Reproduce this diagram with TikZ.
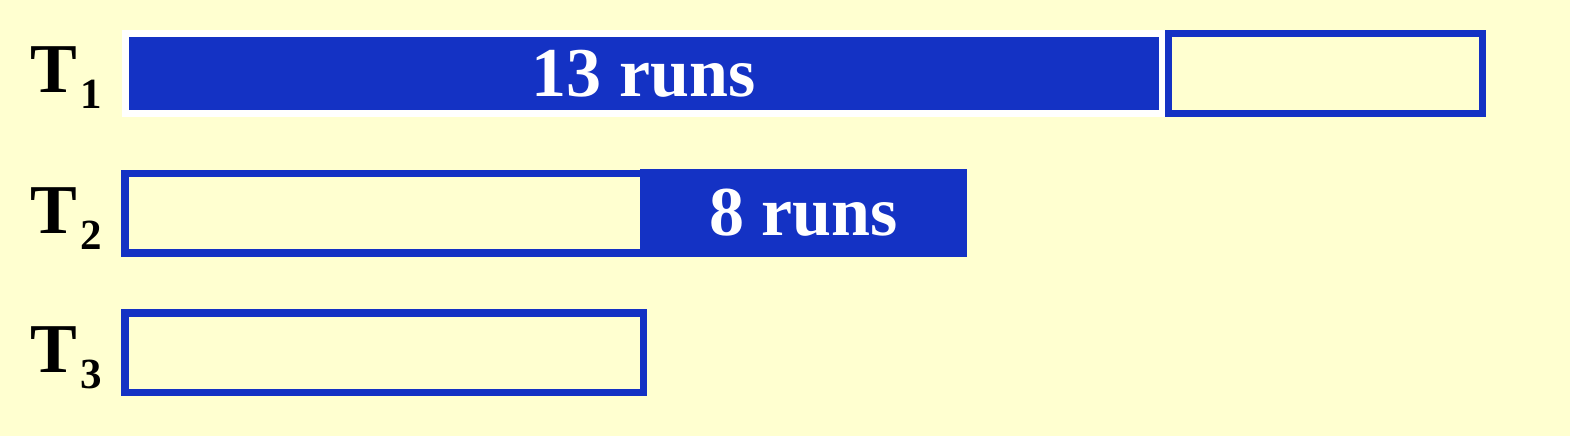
\documentclass[tikz,border=0pt]{standalone}
\usepackage{fontspec}
\setmainfont{Liberation Serif}
\definecolor{cream}{RGB}{255,255,208}
\definecolor{runblue}{RGB}{20,50,196}
\tikzset{
  label/.style={anchor=base west, inner sep=0, font=\fontsize{35}{36}\selectfont\bfseries},
  idlebox/.style={draw=runblue, fill=cream, line width=3.75pt, inner sep=0},
  runbox/.style={draw=white, fill=runblue, line width=3.5pt, inner sep=0, text=white, font=\fontsize{35}{36}\selectfont\bfseries},
  fullbox/.style={fill=runblue, inner sep=0, text=white, font=\fontsize{35}{36}\selectfont\bfseries}
}
\newcommand{\tsub}[1]{T\kern1.5pt\raisebox{-8pt}{\fontsize{21.5}{22}\selectfont #1}}
\begin{document}
\begin{tikzpicture}[x=0.5pt, y=-0.5pt]
  \fill[cream] (0,0) rectangle (1570,436);
  \useasboundingbox (0,0) rectangle (1570,436);

  % T1
  \node[label] (T1) at (30,92) {\tsub{1}};
  \node[runbox, minimum width=518.5pt, minimum height=40pt] (A) at (643.5,73.5) {13 runs};
  \node[idlebox, minimum width=157pt, minimum height=40pt] (B) at (1325.5,73.5) {};

  % T2
  \node[label] (T2) at (30,233) {\tsub{2}};
  \node[idlebox, minimum width=259.25pt, minimum height=39.75pt] (C) at (384,213) {};
  \node[fullbox, minimum width=163.5pt, minimum height=43.75pt] (D) at (803.5,213) {8 runs};

  % T3
  \node[label] (T3) at (30,372) {\tsub{3}};
  \node[idlebox, minimum width=259.25pt, minimum height=39.75pt] (E) at (384,352.5) {};
\end{tikzpicture}
\end{document}
